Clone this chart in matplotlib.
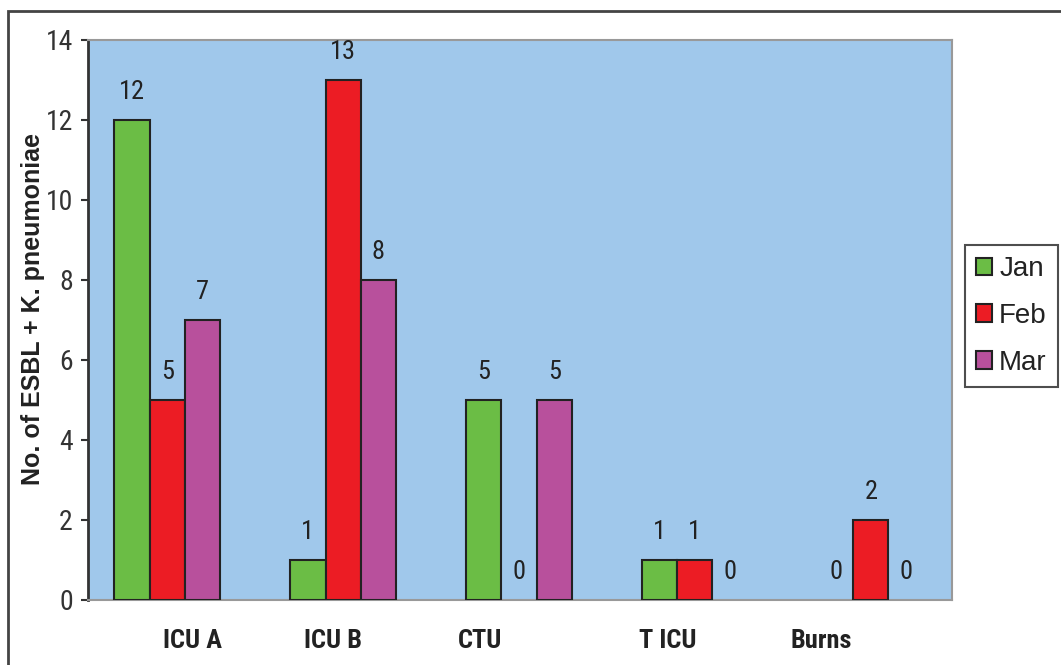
import numpy as np
import matplotlib.pyplot as plt
from matplotlib.patches import Rectangle

# data
wards = ["ICU A", "ICU B", "CTU", "T ICU", "Burns"]
months = ["Jan", "Feb", "Mar"]
jan = [12, 1, 5, 1, 0]
feb = [5, 13, 0, 1, 2]
mar = [7, 8, 5, 0, 0]

colors = ["#6BBD45", "#EC1C24", "#B8509C"]
plt.rcParams['font.family'] = ['Roboto Condensed', 'Liberation Sans', 'DejaVu Sans']

fig = plt.figure(figsize=(10.61, 6.65), dpi=100)
ax = fig.add_axes([0.083, 0.098, 0.814, 0.842])
ax.set_facecolor("#A0C8EB")

x = np.arange(len(wards))
w = 0.2
for i, (vals, m) in enumerate(zip([jan, feb, mar], months)):
    pos = x + (i - 1) * w
    lw = [1.5 if v > 0 else 0 for v in vals]
    ax.bar(pos, vals, w, color=colors[i], edgecolor="#222222", linewidth=lw, label=m, zorder=3)
    for p, v in zip(pos, vals):
        ax.annotate(str(v), (p, v), xytext=(0, 20), textcoords="offset points",
                    ha="center", va="center", fontsize=19, color="#222222")

ax.set_xlim(-0.45, 4.46)
ax.set_ylim(0, 14)
ax.set_yticks(range(0, 15, 2))
ax.tick_params(axis="y", labelsize=20, length=5, width=1.5, color="#333333", labelcolor="#333333", pad=6)

# ward labels sit off-centre under the groups, as in the original
ax.set_xticks([0.142, 0.943, 1.778, 2.847, 3.72])
ax.set_xticklabels(wards, fontsize=19, fontweight="bold", color="#222222")
ax.tick_params(axis="x", length=0, pad=21)

ax.spines["left"].set_color("#333333")
ax.spines["left"].set_linewidth(2)
for s in ["top", "right", "bottom"]:
    ax.spines[s].set_color("#999999")
    ax.spines[s].set_linewidth(1.5)

fig.text(0.031, 0.27, "No. of ESBL + K. pneumoniae", rotation=90, ha="center", va="bottom",
         fontsize=18, fontweight="bold", color="#222222", family=["Liberation Sans", "DejaVu Sans"])

leg = fig.legend(loc="upper left", bbox_to_anchor=(0.9095, 0.6316),
                 prop={"family": "Liberation Sans", "size": 20},
                 frameon=True, fancybox=False, handlelength=0.58, handleheight=0.58,
                 handletextpad=0.25, labelspacing=0.75, borderpad=0.4, borderaxespad=0)
leg.get_frame().set_edgecolor("#222222")
leg.get_frame().set_linewidth(1.5)
for t in leg.get_texts():
    t.set_color("#222222")

# outer frame of the figure
fig.patches.append(Rectangle((0.0075, -0.1), 1.2, 1.0835, transform=fig.transFigure,
                             fill=False, edgecolor="#444444", linewidth=2))

fig.savefig("out.png", dpi=100)
